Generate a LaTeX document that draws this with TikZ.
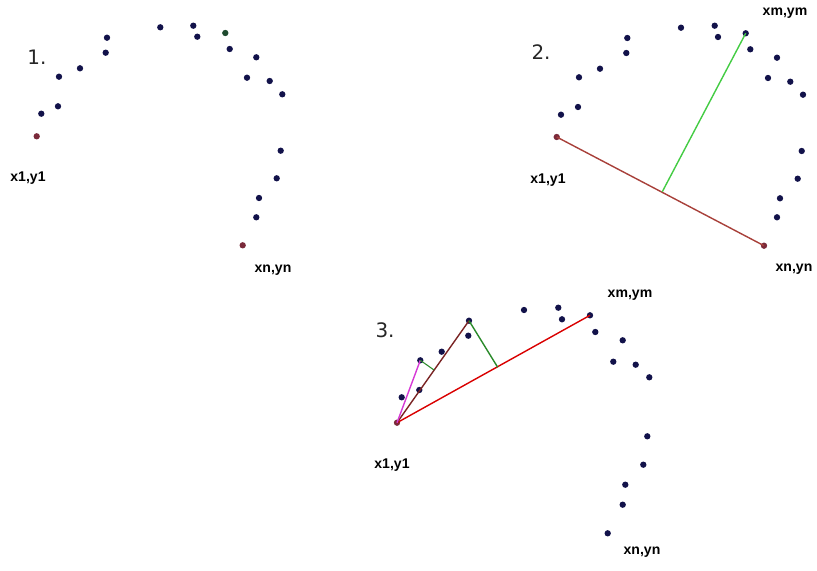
\documentclass[tikz,border=0pt]{standalone}
\usepackage{fontspec}
\setmainfont{Liberation Sans}
\newfontfamily\numfont{DejaVu Sans}
\usepackage{tikz}
\definecolor{pointbleu}{HTML}{12124A}
\definecolor{pointrouge}{HTML}{7A2A3A}
\definecolor{pointvert}{HTML}{1E4A2E}
\definecolor{corde}{HTML}{A8403A}
\definecolor{cordebrune}{HTML}{7A2424}
\definecolor{vertclair}{HTML}{44CC44}
\definecolor{vertfonce}{HTML}{2A8A2A}
\definecolor{rose}{HTML}{D63AD6}

\tikzset{
  pt/.style={circle, fill=pointbleu, inner sep=0pt, minimum size=0.19cm},
  ptfin/.style={pt, fill=pointrouge},
  ptmax/.style={pt, fill=pointvert},
  etiq/.style={font=\fontsize{12}{12}\selectfont\bfseries},
  numero/.style={font=\numfont\fontsize{17}{17}\selectfont, text=black!85}
}

\begin{document}
\begin{tikzpicture}[x=0.03cm, y=-0.03cm]
    \useasboundingbox (0,0) rectangle (817,571);

    % Etape 1
    \foreach \p in {(41.3,113.7), (58,106.3), (59,76.7), (80,68.3), (105.7,52.7),
        (107,37.7), (160.3,27.3), (193.3,25.7), (197.3,36.7), (229.7,49),
        (256.3,57.3), (247,77.7), (269.7,81), (282.3,94.3), (280.7,150.7),
        (276.7,178.3), (259,198), (256.3,217.3)}
        \node[pt] at \p {};
    \node[ptfin] (p1) at (36.7,136.3) {};
    \node[ptmax] (m1) at (225.3,33) {};
    \node[ptfin] (n1) at (242.7,245.3) {};
    \node[numero] (num1) at (37,57) {1.};
    \node[etiq] (l1) at (28,178) {x1,y1};
    \node[etiq] (ln1) at (273,270) {xn,yn};

    % Etape 2
    \foreach \p in {(561,114.7), (578,107), (579,77.3), (600,68.7), (626.3,53),
        (627.3,38), (681,27.7), (714.7,25.7), (718,37), (750.3,49.3),
        (777,57.7), (768,78), (790.3,81.7), (803,94.7), (801.7,151),
        (797.7,178.7), (780,198.3), (777,217.3)}
        \node[pt] at \p {};
    \node[ptfin] (p2) at (556.7,137) {};
    \node[pt] (m2) at (745.7,33.3) {};
    \node[ptfin] (n2) at (764,245.7) {};
    \coordinate (h2) at (662.3,191.7);
    \draw[corde, line width=1.2pt] (p2.center) -- (n2.center);
    \draw[vertclair, line width=1.2pt] (h2) -- (m2.center);
    \node[numero] (num2) at (541,52) {2.};
    \node[etiq] (lm2) at (785,13.3) {xm,ym};
    \node[etiq] (l2) at (548,180) {x1,y1};
    \node[etiq] (ln2) at (794,269.3) {xn,yn};

    % Etape 3
    \foreach \p in {(401.7,397.3), (419.3,390), (441.7,351.7), (468.3,335.7),
        (524,310), (558.3,307.7), (562,319.3), (595.3,332), (622.7,340.3),
        (613.3,361.7), (635.7,364.7), (649.3,377.3), (647.3,436.3),
        (643.3,464.7), (625.3,484.7), (622.7,504.7), (607.7,533.3)}
        \node[pt] at \p {};
    \node[ptfin] (p3) at (397,422.7) {};
    \node[pt] (m3) at (590,315.3) {};
    \node[pt] (k3) at (469,320.7) {};
    \node[pt] (j3) at (420.3,360.3) {};
    \coordinate (h3) at (497.7,367.3);
    \coordinate (g3) at (434,370);
    \draw[red!85!black, line width=1.2pt] (p3.center) -- (m3.center);
    \draw[cordebrune, line width=1.2pt] (p3.center) -- (k3.center);
    \draw[rose, line width=1.2pt] (p3.center) -- (j3.center);
    \draw[vertfonce, line width=1.2pt] (k3.center) -- (h3);
    \draw[vertfonce, line width=0.9pt] (j3.center) -- (g3);
    \node[numero] (num3) at (385,330) {3.};
    \node[etiq] (lm3) at (630,295) {xm,ym};
    \node[etiq] (l3) at (392,465) {x1,y1};
    \node[etiq] (ln3) at (642,551.7) {xn,yn};
\end{tikzpicture}
\end{document}
